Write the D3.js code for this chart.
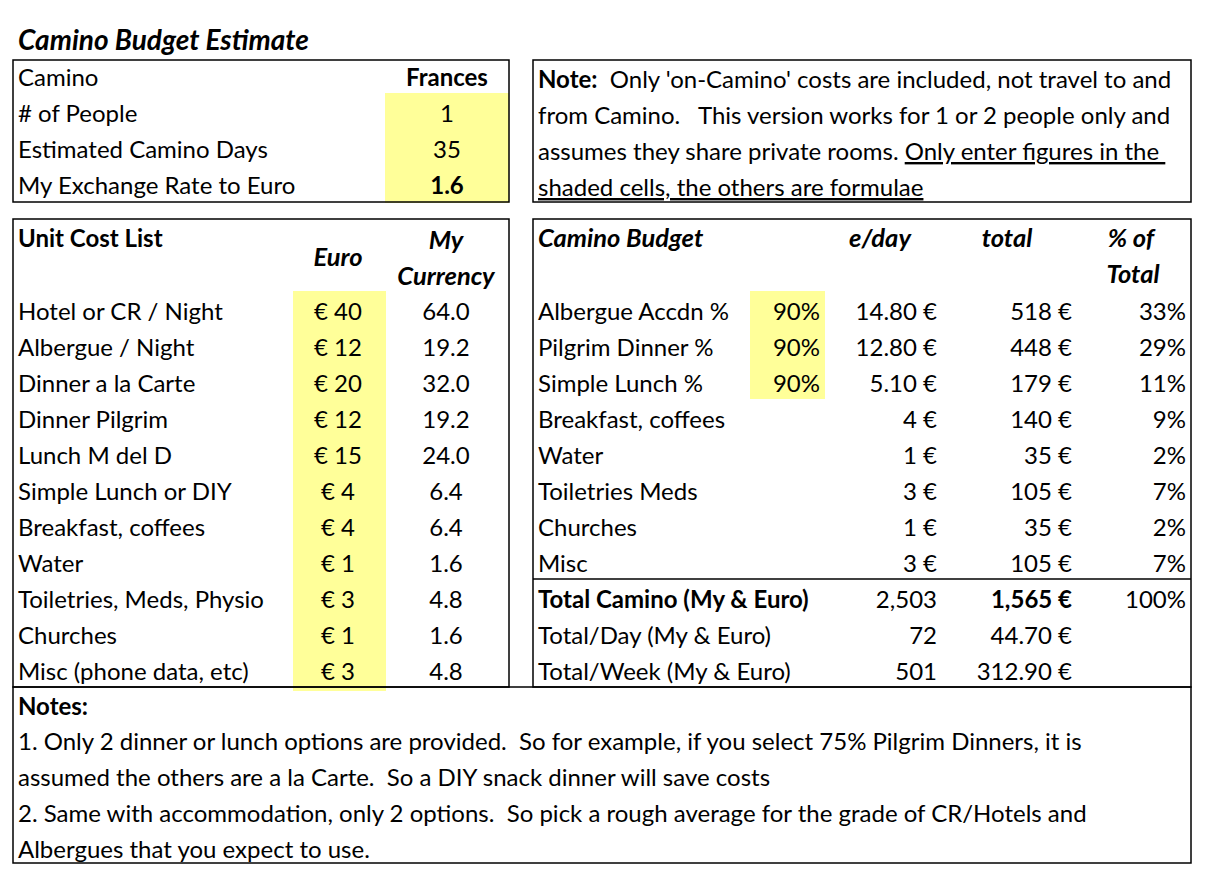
<!DOCTYPE html>
<html>
<head>
<meta charset="utf-8">
<script src="https://cdn.jsdelivr.net/npm/d3@7"></script>
<style>
  body { margin: 0; background: #fff; }
  text { font-family: Lato, "Open Sans", sans-serif; fill: #000; white-space: pre; }
</style>
</head>
<body>
<div id="sheet"></div>
<script>
var svgWidth = 1205;
var svgHeight = 869;

// top block
var topLabels = ["Camino", "# of People", "Estimated Camino Days", "My Exchange Rate to Euro"];
var topValues = ["Frances", "1", "35", "1.6"];

var noteLines = [
  [["Note:", "b"], ["  Only 'on-Camino' costs are included, not travel to and", ""]],
  [["from Camino.   This version works for 1 or 2 people only and", ""]],
  [["assumes they share private rooms. ", ""], ["Only enter figures in the ", "u"]],
  [["shaded cells, the others are formulae", "u"]]
];

// unit cost list
var unitItems = ["Hotel or CR / Night", "Albergue / Night", "Dinner a la Carte", "Dinner Pilgrim",
  "Lunch M del D", "Simple Lunch or DIY", "Breakfast, coffees", "Water",
  "Toiletries, Meds, Physio", "Churches", "Misc (phone data, etc)"];
var unitEuro = [40, 12, 20, 12, 15, 4, 4, 1, 3, 1, 3];
var unitMine = [64.0, 19.2, 32.0, 19.2, 24.0, 6.4, 6.4, 1.6, 4.8, 1.6, 4.8];

// camino budget
var budgetItems = ["Albergue Accdn %", "Pilgrim Dinner %", "Simple Lunch %", "Breakfast, coffees",
  "Water", "Toiletries Meds", "Churches", "Misc"];
var budgetPct = ["90%", "90%", "90%", "", "", "", "", ""];
var budgetDay = ["14.80 €", "12.80 €", "5.10 €", "4 €", "1 €", "3 €", "1 €", "3 €"];
var budgetTotal = ["518 €", "448 €", "179 €", "140 €", "35 €", "105 €", "35 €", "105 €"];
var budgetShare = ["33%", "29%", "11%", "9%", "2%", "7%", "2%", "7%"];

var totalLabels = ["Total Camino (My & Euro)", "Total/Day (My & Euro)", "Total/Week (My & Euro)"];
var totalMine = ["2,503", "72", "501"];
var totalEuro = ["1,565 €", "44.70 €", "312.90 €"];
var totalShare = ["100%", "", ""];

var footNotes = [
  "1. Only 2 dinner or lunch options are provided.  So for example, if you select 75% Pilgrim Dinners, it is",
  "assumed the others are a la Carte.  So a DIY snack dinner will save costs",
  "2. Same with accommodation, only 2 options.  So pick a rough average for the grade of CR/Hotels and",
  "Albergues that you expect to use."
];

var yellow = "#ffff99";
var fs = 24;      // regular cells
var fsHead = 25.5; // bold italic headers

var svg = d3.select("#sheet")
  .append("svg")
  .attr("width", svgWidth)
  .attr("height", svgHeight);

// sheet rows are 36px tall
var rowStep = 36;
function rows(n, top) {
  return d3.scaleBand().domain(d3.range(n)).range([top, top + n * rowStep]).padding(0);
}

function txt(g, x, y, s, anchor, bold, italic, size) {
  return g.append("text")
    .attr("x", x).attr("y", y)
    .attr("text-anchor", anchor || "start")
    .style("font-size", (size || (italic ? fsHead : fs)) + "px")
    .style("font-weight", bold ? "bold" : "normal")
    .style("font-style", italic ? "italic" : "normal")
    .text(s);
}

var fills = svg.append("g");
var lines = svg.append("g");
var labels = svg.append("g");

// title
txt(labels, 18, 50, "Camino Budget Estimate", "start", true, true, 28);

// top block
var yTop = rows(4, 59);
fills.append("rect")
  .attr("x", 385).attr("y", yTop(1) - 2)
  .attr("width", 124).attr("height", yTop(3) + rowStep - yTop(1) + 2)
  .attr("fill", yellow);
labels.selectAll(".toplab").data(topLabels).enter().append("text")
  .attr("x", 18).attr("y", (d, i) => yTop(i) + 27)
  .style("font-size", fs + "px").text(d => d);
topValues.forEach(function(v, i) {
  txt(labels, 447, yTop(i) + 27, v, "middle", i === 0 || i === 3, false);
});

// note block
var yNote = rows(4, 61);
noteLines.forEach(function(parts, i) {
  var t = labels.append("text")
    .attr("x", 538).attr("y", yNote(i) + 27)
    .style("font-size", fs + "px");
  parts.forEach(function(p) {
    t.append("tspan")
      .style("font-weight", p[1] === "b" ? "bold" : "normal")
      .style("text-decoration", p[1] === "u" ? "underline" : "none")
      .text(p[0]);
  });
});

// unit cost list
var yUnit = rows(unitItems.length, 291);
fills.append("rect")
  .attr("x", 293).attr("y", yUnit(0))
  .attr("width", 93).attr("height", yUnit.bandwidth() * unitItems.length + 4)
  .attr("fill", yellow);
txt(labels, 18, 247, "Unit Cost List", "start", true, false);
txt(labels, 338, 266, "Euro", "middle", true, true);
txt(labels, 446, 249, "My", "middle", true, true);
txt(labels, 446, 285, "Currency", "middle", true, true);
labels.selectAll(".unitlab").data(unitItems).enter().append("text")
  .attr("x", 18).attr("y", (d, i) => yUnit(i) + 29)
  .style("font-size", fs + "px").text(d => d);
labels.selectAll(".uniteuro").data(unitEuro).enter().append("text")
  .attr("x", 338).attr("y", (d, i) => yUnit(i) + 29)
  .attr("text-anchor", "middle")
  .style("font-size", fs + "px").text(d => "€ " + d);
labels.selectAll(".unitmine").data(unitMine).enter().append("text")
  .attr("x", 446).attr("y", (d, i) => yUnit(i) + 29)
  .attr("text-anchor", "middle")
  .style("font-size", fs + "px").text(d => d3.format(".1f")(d));

// camino budget
var yBud = rows(budgetItems.length, 291);
fills.append("rect")
  .attr("x", 750).attr("y", yBud(0))
  .attr("width", 75).attr("height", yBud(3) - yBud(0))
  .attr("fill", yellow);
txt(labels, 538, 247, "Camino Budget", "start", true, true);
txt(labels, 880, 247, "e/day", "middle", true, true);
txt(labels, 1007, 247, "total", "middle", true, true);
txt(labels, 1131, 247, "% of", "middle", true, true);
txt(labels, 1133, 283, "Total", "middle", true, true);

var budCols = [
  {vals: budgetPct, x: 820},
  {vals: budgetDay, x: 937},
  {vals: budgetTotal, x: 1072},
  {vals: budgetShare, x: 1186}
];
labels.selectAll(".budlab").data(budgetItems).enter().append("text")
  .attr("x", 538).attr("y", (d, i) => yBud(i) + 29)
  .style("font-size", fs + "px").text(d => d);
budCols.forEach(function(c) {
  labels.append("g").selectAll("text").data(c.vals).enter().append("text")
    .attr("x", c.x).attr("y", (d, i) => yBud(i) + 29)
    .attr("text-anchor", "end")
    .style("font-size", fs + "px").text(d => d);
});

// totals
var yTot = rows(totalLabels.length, 579);
totalLabels.forEach(function(l, i) {
  var y = yTot(i) + 29;
  txt(labels, 538, y, l, "start", i === 0, false);
  txt(labels, 937, y, totalMine[i], "end", false, false);
  txt(labels, 1072, y, totalEuro[i], "end", i === 0, false);
  txt(labels, 1186, y, totalShare[i], "end", false, false);
});

// notes
var yFoot = rows(5, 687);
txt(labels, 18, yFoot(0) + 28, "Notes:", "start", true, false);
footNotes.forEach(function(n, i) {
  txt(labels, 18, yFoot(i + 1) + 27, n, "start", false, false);
});

// borders
var boxes = [
  [13, 60, 509, 202],
  [533, 60, 1191, 202],
  [13, 219, 509, 687],
  [533, 219, 1191, 687],
  [13, 687, 1191, 863]
];
lines.selectAll("rect").data(boxes).enter().append("rect")
  .attr("x", d => d[0]).attr("y", d => d[1])
  .attr("width", d => d[2] - d[0]).attr("height", d => d[3] - d[1])
  .attr("fill", "none").attr("stroke", "#000").attr("stroke-width", 1.5);
lines.append("line")
  .attr("x1", 533).attr("x2", 1191).attr("y1", 579).attr("y2", 579)
  .attr("stroke", "#000").attr("stroke-width", 1.5);
</script>
</body>
</html>
